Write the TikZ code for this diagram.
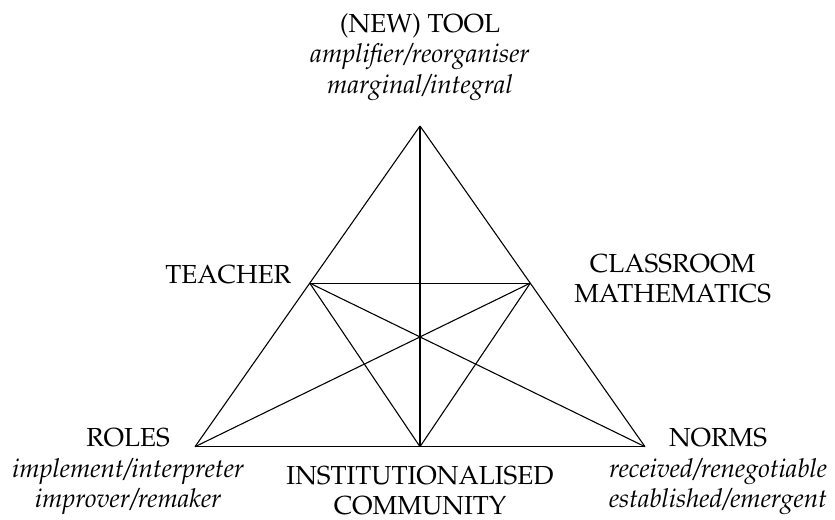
\documentclass[tikz,border=0pt,12pt]{standalone}
\usepackage[T1]{fontenc}
\usepackage{mathpazo}
\usetikzlibrary{positioning,calc}

\begin{document}
\begin{tikzpicture}[lbl/.style={inner sep=0pt, align=center, font=\fontsize{12}{14}\selectfont},
    line width=0.5pt]
  \useasboundingbox (-3.153,-1.169) rectangle (10.347,7.222);

  \coordinate (ro) at (0,0);
  \coordinate (no) at (7.275,0);
  \coordinate (tl) at (3.6375,5.185);
  \coordinate (te) at ($(ro)!0.51!(tl)$);
  \coordinate (cm) at ($(no)!0.51!(tl)$);
  \coordinate (co) at ($(ro)!0.5!(no)$);

  \node[lbl, anchor=base, yshift=15pt] (tool) at (tl)
    {(NEW) TOOL\\ \textit{amplifier/reorganiser}\\ \textit{marginal/integral}};
  \node[lbl, base left=8.3pt of te] (teacher) {TEACHER};
  \node[lbl, anchor=base west, xshift=20pt, yshift=-9pt] (class) at (cm)
    {CLASSROOM\\ MATHEMATICS};
  \node[lbl, anchor=base, xshift=-30.8pt, yshift=-28pt] (roles) at (ro)
    {ROLES\\ \textit{implement/interpreter}\\ \textit{improver/remaker}};
  \node[lbl, anchor=base, xshift=33.6pt, yshift=-28pt] (norms) at (no)
    {NORMS\\ \textit{received/renegotiable}\\ \textit{established/emergent}};
  \node[lbl, anchor=base, yshift=-31.3pt] (comm) at (co)
    {INSTITUTIONALISED\\ COMMUNITY};

  \draw
    (ro)
      edge (no)
      edge (tl)
      edge (cm)
    (no)
      edge (tl)
      edge (te)
    (tl) edge (co)
    (te)
      edge (cm)
      edge (co)
    (cm) edge (co);

\end{tikzpicture}
\end{document}
